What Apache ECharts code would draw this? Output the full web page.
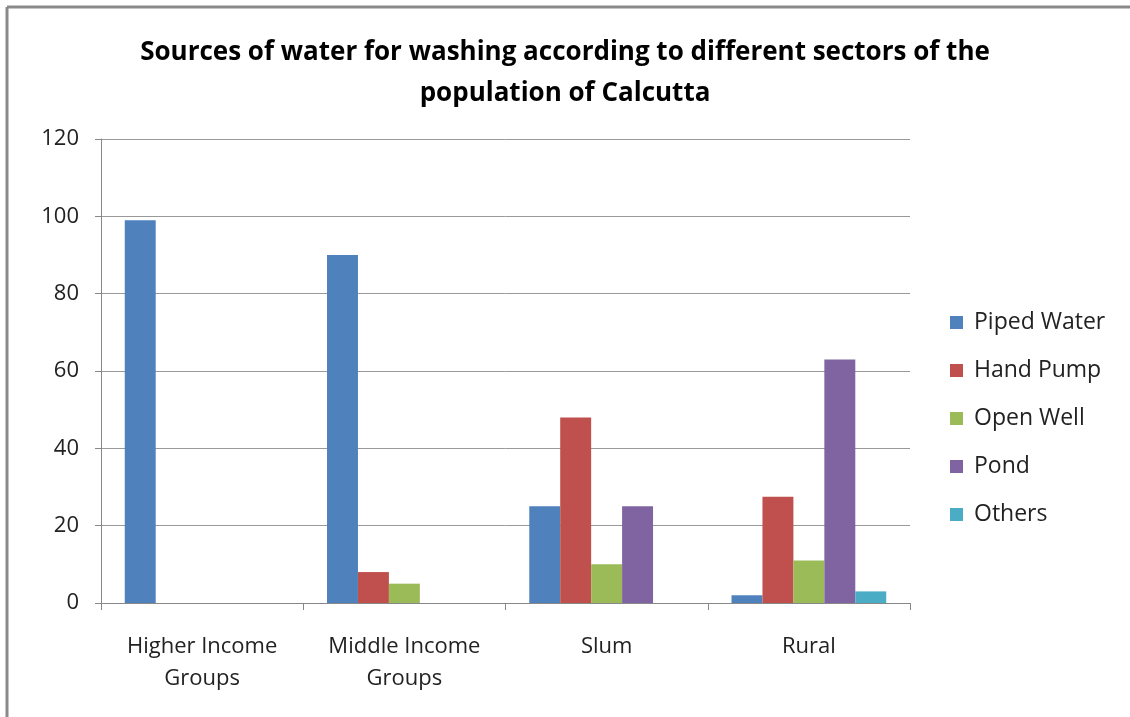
<!DOCTYPE html>
<html>
<head>
<meta charset="utf-8">
<script src="https://cdn.jsdelivr.net/npm/echarts@6/dist/echarts.min.js"></script>
<style>
html,body{margin:0;padding:0;background:#fff;}
#chart{width:1130px;height:717px;}
</style>
</head>
<body>
<div id="chart"></div>
<script>
const titleText = 'Sources of water for washing according to different sectors of the\npopulation of Calcutta';
const categories = ['Higher Income\nGroups', 'Middle Income\nGroups', 'Slum', 'Rural'];
const seriesNames = ['Piped Water', 'Hand Pump', 'Open Well', 'Pond', 'Others'];
const pipedWater = [99, 90, 25, 2];
const handPump = [0, 8, 48, 27.5];
const openWell = [0, 5, 10, 11];
const pond = [0, 0, 25, 63];
const others = [0, 0, 0, 3];
const colors = ['#4F81BD', '#C0504D', '#9BBB59', '#8064A2', '#4BACC6'];

const values = [pipedWater, handPump, openWell, pond, others];
const FONT = '"Open Sans", sans-serif';

const chart = echarts.init(document.getElementById('chart'));
chart.setOption({
  animation: false,
  backgroundColor: '#fff',
  title: {
    text: titleText,
    left: 'center',
    top: 27,
    textStyle: { fontFamily: FONT, fontSize: 26, fontWeight: 'bold', color: '#000', lineHeight: 41 }
  },
  graphic: [
    { type: 'line', shape: { x1: 7, y1: 7, x2: 1130, y2: 7 }, style: { stroke: '#8a8a8a', lineWidth: 3 } },
    { type: 'line', shape: { x1: 7, y1: 7, x2: 7, y2: 717 }, style: { stroke: '#8a8a8a', lineWidth: 3 } }
  ],
  legend: {
    orient: 'vertical',
    left: 945,
    top: 306,
    itemWidth: 13,
    itemHeight: 13,
    itemGap: 25,
    icon: 'rect',
    textStyle: { fontFamily: FONT, fontSize: 23, color: '#222', padding: [0, 0, 0, 6] },
    data: seriesNames
  },
  grid: { left: 101, right: 220, top: 139, bottom: 114, containLabel: false },
  xAxis: {
    type: 'category',
    data: categories,
    axisLine: { lineStyle: { color: '#888', width: 1 } },
    axisTick: { show: true, length: 7, lineStyle: { color: '#888' } },
    axisLabel: { fontFamily: FONT, fontSize: 22, color: '#222', margin: 28, lineHeight: 32 }
  },
  yAxis: {
    type: 'value',
    min: 0,
    max: 120,
    interval: 20,
    axisLine: { show: true, lineStyle: { color: '#888', width: 1 } },
    axisTick: { show: true, length: 6, inside: false, lineStyle: { color: '#888' } },
    splitLine: { lineStyle: { color: '#999', width: 1 } },
    axisLabel: { fontFamily: FONT, fontSize: 22, color: '#222', margin: 22 }
  },
  series: seriesNames.map((name, i) => ({
    name: name,
    type: 'bar',
    data: values[i],
    barGap: '0%',
    barCategoryGap: '23.5%',
    itemStyle: { color: colors[i] }
  }))
});
</script>
</body>
</html>
